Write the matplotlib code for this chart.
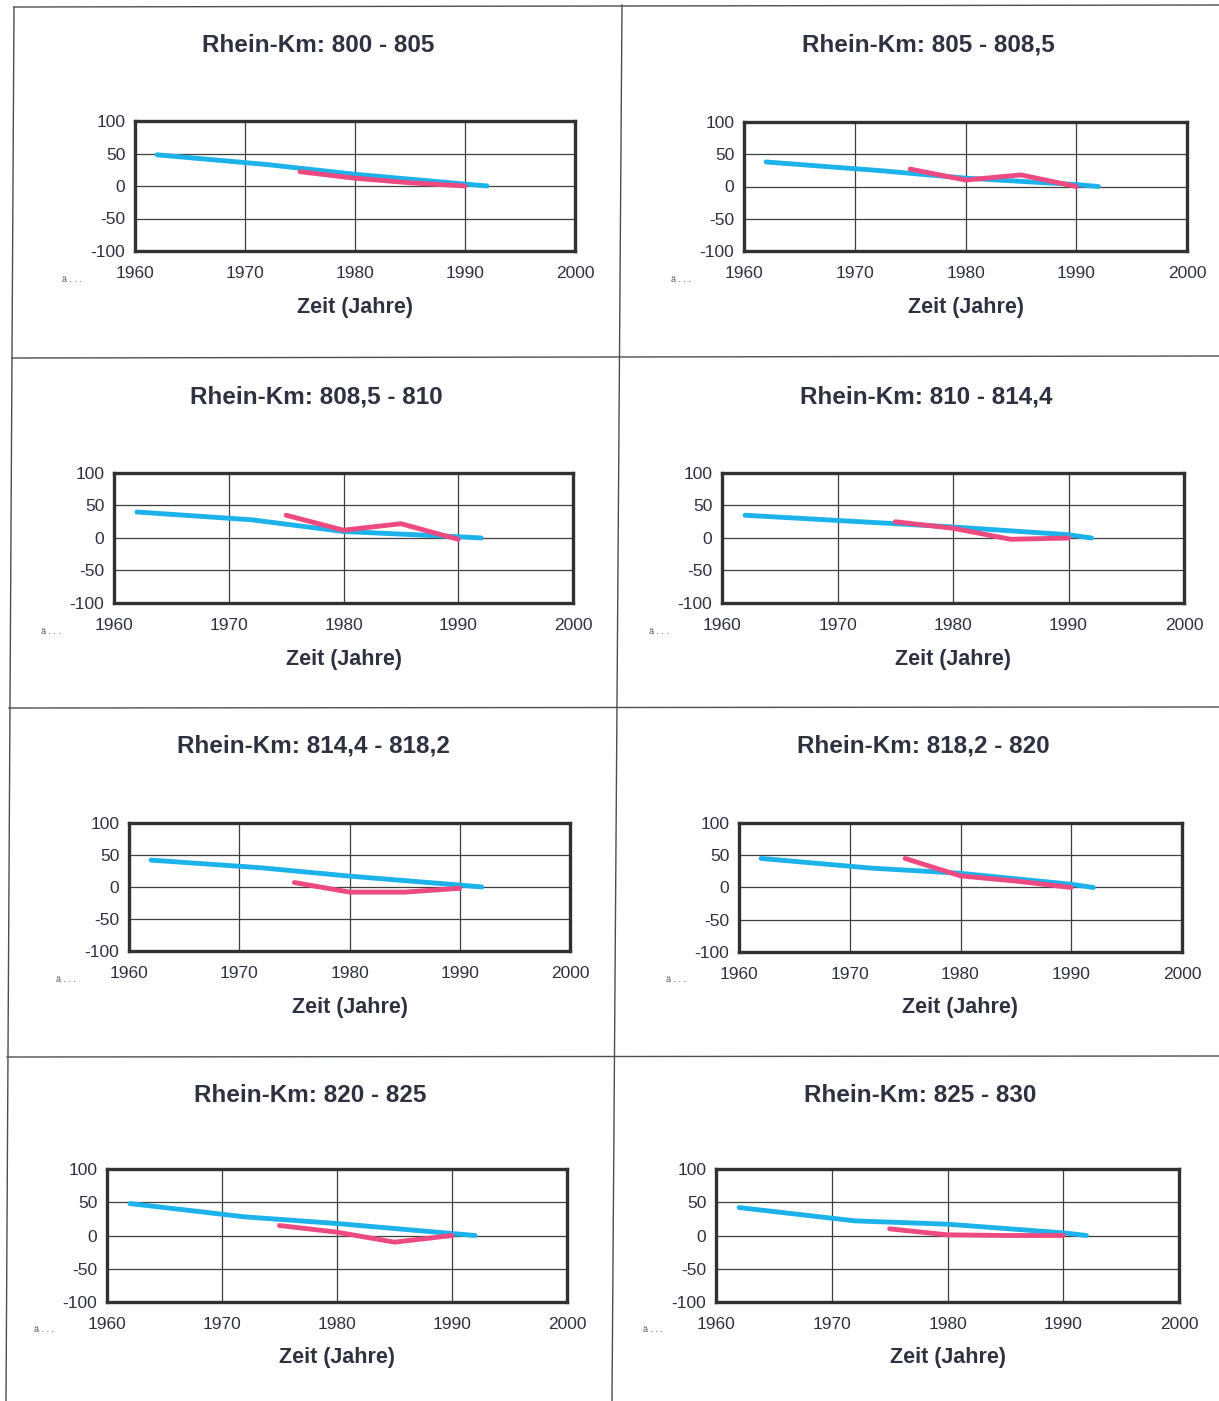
import matplotlib
matplotlib.use("Agg")
import matplotlib.pyplot as plt
from matplotlib.lines import Line2D

plt.rcParams['font.family'] = ['Liberation Sans', 'DejaVu Sans']
plt.rcParams['axes.unicode_minus'] = False

W, H = 1219, 1401

# Section titles (Rhein kilometre ranges)
titles = ["Rhein-Km: 800 - 805", "Rhein-Km: 805 - 808,5",
          "Rhein-Km: 808,5 - 810", "Rhein-Km: 810 - 814,4",
          "Rhein-Km: 814,4 - 818,2", "Rhein-Km: 818,2 - 820",
          "Rhein-Km: 820 - 825", "Rhein-Km: 825 - 830"]

# Long-term series (blue)
blue_years = [1962, 1972, 1980, 1990, 1992]
blue_vals = [
    [48, 33, 18, 3, 0],
    [38, 25, 13, 3, 0],
    [40, 28, 10, 2, 0],
    [35, 25, 17, 5, 0],
    [42, 30, 17, 3, 0],
    [45, 30, 22, 5, 0],
    [48, 28, 18, 3, 0],
    [42, 22, 17, 4, 0],
]

# Short-term series (pink)
pink_years = [1975, 1980, 1985, 1990]
pink_vals = [
    [22, 12, 5, 0],
    [27, 10, 18, 0],
    [35, 12, 22, -2],
    [25, 15, -2, 0],
    [7, -8, -8, -2],
    [45, 18, 10, 0],
    [15, 5, -10, 0],
    [10, 1, 0, 0],
]

x_ticks = [1960, 1970, 1980, 1990, 2000]
y_ticks = [-100, -50, 0, 50, 100]
x_label = "Zeit (Jahre)"

# Plot boxes in pixels: left, right, top, bottom; title centre (x, y)
boxes = [
    (135, 575, 121, 251, 318, 45),
    (744, 1187, 122, 251, 928, 45),
    (114, 573, 473, 603, 316, 397),
    (722, 1184, 473, 603, 926, 397),
    (129, 570, 823, 951, 313, 746),
    (739, 1182, 823, 952, 923, 746),
    (107, 567, 1169, 1302, 310, 1095),
    (716, 1179, 1169, 1302, 920, 1096),
]

BLUE = "#1cb2ea"
PINK = "#ee4a82"
TXT = "#2e3140"

fig = plt.figure(figsize=(W / 100, H / 100), dpi=100)
fig.patch.set_facecolor("white")

# Cell frame lines
def fline(x0, y0, x1, y1, lw=1.0, c="#4a504a"):
    fig.add_artist(Line2D([x0 / W, x1 / W], [1 - y0 / H, 1 - y1 / H],
                          transform=fig.transFigure, lw=lw, color=c))

fline(14, 7, 1219, 5)
fline(14, 7, 6, 1401)
fline(622, 5, 612, 1401)
fline(12, 358, 1219, 356)
fline(9, 708, 1219, 707)
fline(7, 1057, 1219, 1056)

for i in range(8):
    l, r, t, b, tx, ty = boxes[i]
    ax = fig.add_axes([l / W, 1 - b / H, (r - l) / W, (b - t) / H])
    ax.set_xlim(1960, 2000)
    ax.set_ylim(-100, 100)
    ax.set_xticks(x_ticks)
    ax.set_yticks(y_ticks)
    ax.grid(True, color="#3c3f3c", lw=0.9)
    ax.set_axisbelow(True)
    for s in ax.spines.values():
        s.set_linewidth(2.4)
        s.set_color("#2f322f")
    ax.tick_params(length=0, labelsize=12.5, colors=TXT, pad=7)
    ax.tick_params(axis="x", pad=11)
    ax.plot(blue_years, blue_vals[i], color=BLUE, lw=3.5,
            solid_capstyle="round", zorder=3)
    ax.plot(pink_years, pink_vals[i], color=PINK, lw=3.5,
            solid_capstyle="round", zorder=4)
    fig.text(tx / W, 1 - ty / H, titles[i], ha="center", va="center",
             fontsize=17.5, fontweight="bold", color=TXT)
    fig.text((l + r) / 2 / W, 1 - (b + 56) / H, x_label, ha="center",
             va="center", fontsize=15.5, fontweight="bold", color=TXT)
    fig.text((l - 63) / W, 1 - (b + 28) / H, "ä . . .", ha="center",
             va="center", fontsize=6.5, color="#555a66")

fig.savefig("out.png", dpi=100, facecolor="white")
